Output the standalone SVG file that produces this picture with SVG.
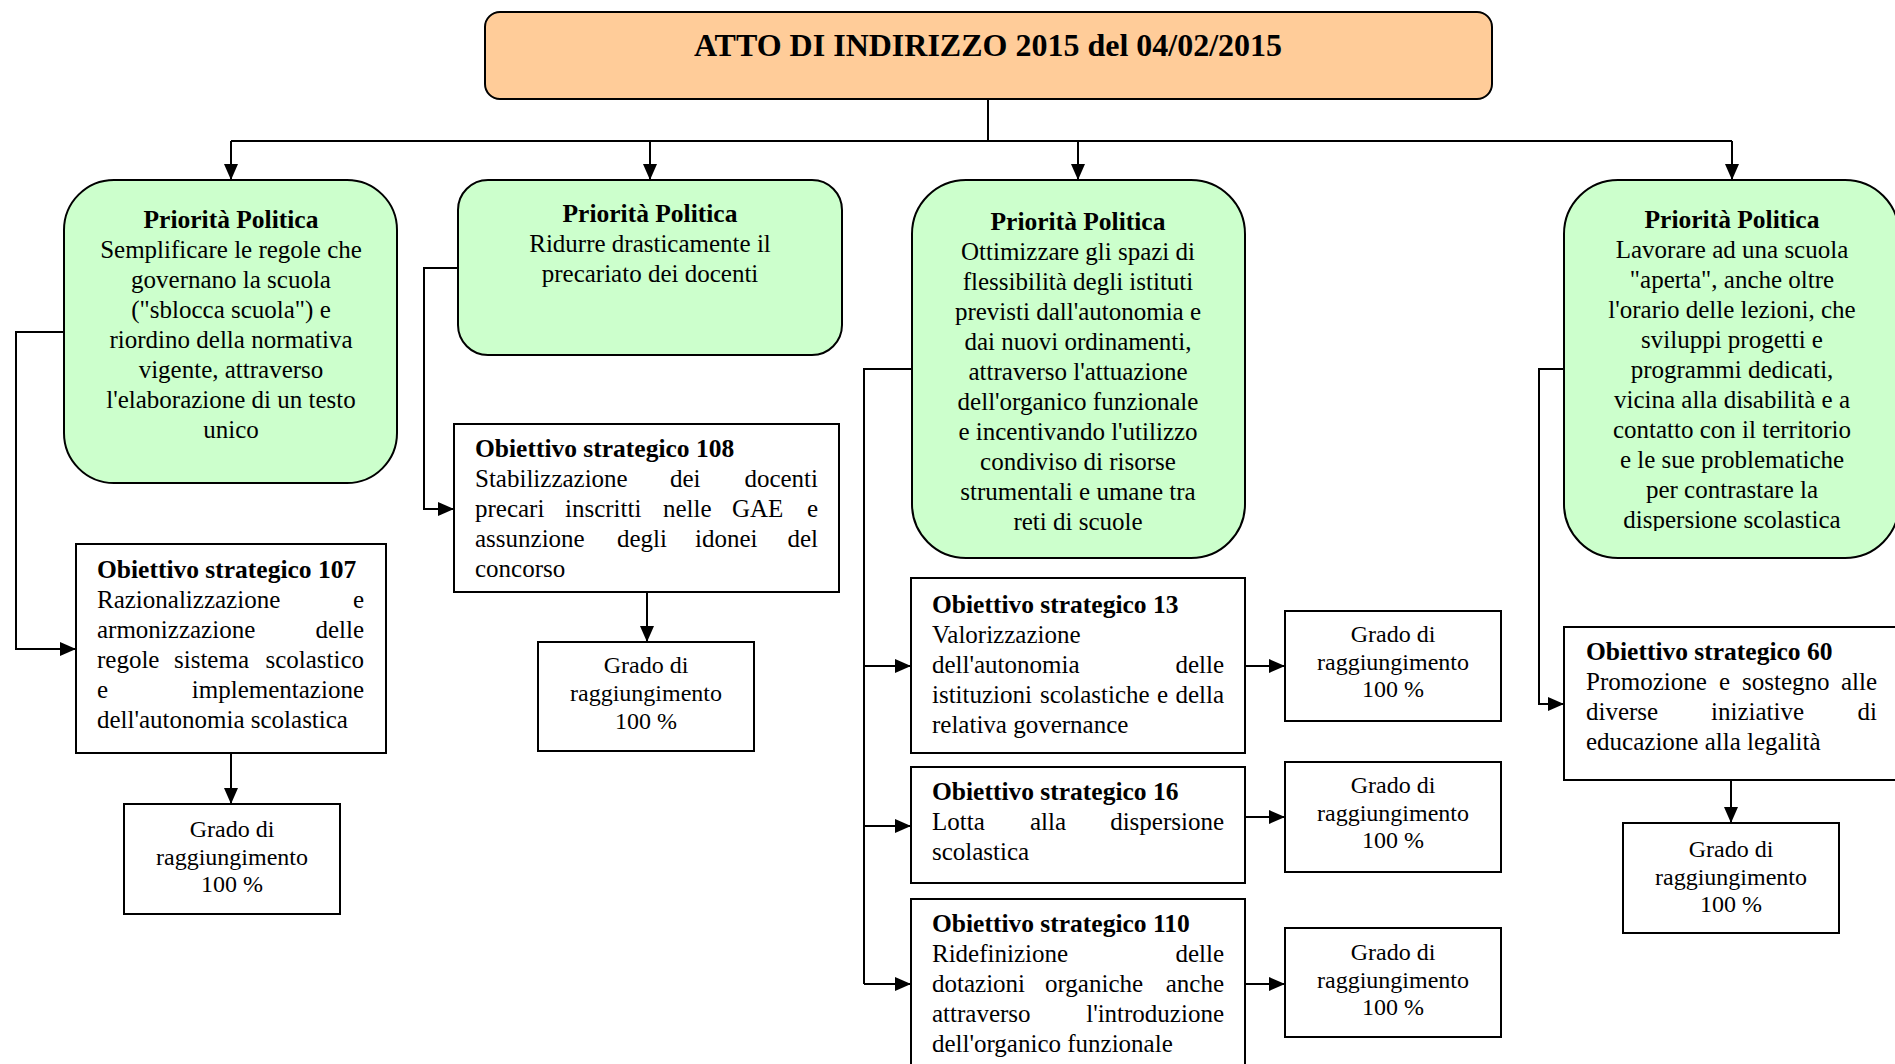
<svg xmlns="http://www.w3.org/2000/svg" width="1895" height="1064" viewBox="0 0 1895 1064">
  <style>
    .pp { fill: #CCFFCC; stroke: #000; stroke-width: 2; }
    .ob { fill: #FFFFFF; stroke: #000; stroke-width: 2; }
    .top { fill: #FFCC99; stroke: #000; stroke-width: 2; }
    text { font-family: "Liberation Serif", "Times New Roman", serif; font-size: 25px; fill: #000; }
    .g { font-size: 24px; }
    .c { text-anchor: middle; }
    .e { text-anchor: end; }
    .b { font-weight: bold; font-size: 25.5px; }
    .h { font-weight: bold; font-size: 32px; text-anchor: middle; }
    #connectors path { fill: none; stroke: #000; stroke-width: 2; }
  </style>
  <defs>
    <marker id="ah" markerUnits="userSpaceOnUse" markerWidth="16" markerHeight="14" refX="16" refY="7" orient="auto">
      <path d="M0,0 L16,7 L0,14 z" fill="#000"/>
    </marker>
    <clipPath id="clip-pp4">
      <rect x="1564" y="180" width="340" height="351"/>
    </clipPath>
  </defs>

  <rect width="1895" height="1064" fill="#FFFFFF"/>

  <!-- connectors -->
  <g id="connectors">
    <path d="M988,99 V141"/>
    <path d="M231,141 H1732"/>
    <path d="M231,141 V180" marker-end="url(#ah)"/>
    <path d="M650,141 V180" marker-end="url(#ah)"/>
    <path d="M1078,141 V180" marker-end="url(#ah)"/>
    <path d="M1732,141 V180" marker-end="url(#ah)"/>

    <path d="M64,332 H16 V649 H76" marker-end="url(#ah)"/>
    <path d="M231,753 V804" marker-end="url(#ah)"/>

    <path d="M458,268 H424 V509 H454" marker-end="url(#ah)"/>
    <path d="M647,592 V642" marker-end="url(#ah)"/>

    <path d="M912,369 H864 V984"/>
    <path d="M864,666 H911" marker-end="url(#ah)"/>
    <path d="M864,826 H911" marker-end="url(#ah)"/>
    <path d="M864,984 H911" marker-end="url(#ah)"/>
    <path d="M1245,666 H1285" marker-end="url(#ah)"/>
    <path d="M1245,817 H1285" marker-end="url(#ah)"/>
    <path d="M1245,984 H1285" marker-end="url(#ah)"/>

    <path d="M1564,369 H1539 V704 H1564" marker-end="url(#ah)"/>
    <path d="M1731,780 V823" marker-end="url(#ah)"/>
  </g>

  <!-- root -->
  <g id="atto">
    <rect class="top" x="485" y="12" width="1007" height="87" rx="15"/>
    <text class="h" x="988" y="56">ATTO DI INDIRIZZO 2015 del 04/02/2015</text>
  </g>

  <!-- political priorities -->
  <g id="priorita-1">
    <rect class="pp" x="64" y="180" width="333" height="303" rx="50"/>
    <text class="c b" x="231" y="228">Priorità Politica</text>
    <text class="c" x="231" y="258">Semplificare le regole che</text>
    <text class="c" x="231" y="288">governano la scuola</text>
    <text class="c" x="231" y="318">("sblocca scuola") e</text>
    <text class="c" x="231" y="348">riordino della normativa</text>
    <text class="c" x="231" y="378">vigente, attraverso</text>
    <text class="c" x="231" y="408">l'elaborazione di un testo</text>
    <text class="c" x="231" y="438">unico</text>
  </g>

  <g id="priorita-2">
    <rect class="pp" x="458" y="180" width="384" height="175" rx="30"/>
    <text class="c b" x="650" y="222">Priorità Politica</text>
    <text class="c" x="650" y="252">Ridurre drasticamente il</text>
    <text class="c" x="650" y="282">precariato dei docenti</text>
  </g>

  <g id="priorita-3">
    <rect class="pp" x="912" y="180" width="333" height="378" rx="54"/>
    <text class="c b" x="1078" y="230">Priorità Politica</text>
    <text class="c" x="1078" y="260">Ottimizzare gli spazi di</text>
    <text class="c" x="1078" y="290">flessibilità degli istituti</text>
    <text class="c" x="1078" y="320">previsti dall'autonomia e</text>
    <text class="c" x="1078" y="350">dai nuovi ordinamenti,</text>
    <text class="c" x="1078" y="380">attraverso l'attuazione</text>
    <text class="c" x="1078" y="410">dell'organico funzionale</text>
    <text class="c" x="1078" y="440">e incentivando l'utilizzo</text>
    <text class="c" x="1078" y="470">condiviso di risorse</text>
    <text class="c" x="1078" y="500">strumentali e umane tra</text>
    <text class="c" x="1078" y="530">reti di scuole</text>
  </g>

  <g id="priorita-4">
    <rect class="pp" x="1564" y="180" width="335" height="378" rx="54"/>
    <g clip-path="url(#clip-pp4)">
      <text class="c b" x="1732" y="228">Priorità Politica</text>
      <text class="c" x="1732" y="258">Lavorare ad una scuola</text>
      <text class="c" x="1732" y="288">"aperta", anche oltre</text>
      <text class="c" x="1732" y="318">l'orario delle lezioni, che</text>
      <text class="c" x="1732" y="348">sviluppi progetti e</text>
      <text class="c" x="1732" y="378">programmi dedicati,</text>
      <text class="c" x="1732" y="408">vicina alla disabilità e a</text>
      <text class="c" x="1732" y="438">contatto con il territorio</text>
      <text class="c" x="1732" y="468">e le sue problematiche</text>
      <text class="c" x="1732" y="498">per contrastare la</text>
      <text class="c" x="1732" y="528">dispersione scolastica</text>
    </g>
  </g>

  <!-- strategic objectives (justified lines are set word by word) -->
  <g id="obiettivo-107">
    <rect class="ob" x="76" y="544" width="310" height="209"/>
    <text class="b" x="97" y="578">Obiettivo strategico 107</text>
    <text x="97" y="608">Razionalizzazione</text><text class="e" x="364" y="608">e</text>
    <text x="97" y="638">armonizzazione</text><text class="e" x="364" y="638">delle</text>
    <text x="97" y="668">regole</text><text x="174" y="668">sistema</text><text class="e" x="364" y="668">scolastico</text>
    <text x="97" y="698">e</text><text class="e" x="364" y="698">implementazione</text>
    <text x="97" y="728">dell'autonomia scolastica</text>
  </g>

  <g id="obiettivo-108">
    <rect class="ob" x="454" y="424" width="385" height="168"/>
    <text class="b" x="475" y="457">Obiettivo strategico 108</text>
    <text x="475" y="487">Stabilizzazione</text><text x="670" y="487">dei</text><text class="e" x="818" y="487">docenti</text>
    <text x="475" y="517">precari</text><text x="565" y="517">inscritti</text><text x="663" y="517">nelle</text><text x="732" y="517">GAE</text><text class="e" x="818" y="517">e</text>
    <text x="475" y="547">assunzione</text><text x="617" y="547">degli</text><text x="695" y="547">idonei</text><text class="e" x="818" y="547">del</text>
    <text x="475" y="577">concorso</text>
  </g>

  <g id="obiettivo-13">
    <rect class="ob" x="911" y="578" width="334" height="175"/>
    <text class="b" x="932" y="613">Obiettivo strategico 13</text>
    <text x="932" y="643">Valorizzazione</text>
    <text x="932" y="673">dell'autonomia</text><text class="e" x="1224" y="673">delle</text>
    <text x="932" y="703">istituzioni</text><text x="1040" y="703">scolastiche</text><text x="1157" y="703">e</text><text class="e" x="1224" y="703">della</text>
    <text x="932" y="733">relativa governance</text>
  </g>

  <g id="obiettivo-16">
    <rect class="ob" x="911" y="767" width="334" height="116"/>
    <text class="b" x="932" y="800">Obiettivo strategico 16</text>
    <text x="932" y="830">Lotta</text><text x="1030" y="830">alla</text><text class="e" x="1224" y="830">dispersione</text>
    <text x="932" y="860">scolastica</text>
  </g>

  <g id="obiettivo-110">
    <rect class="ob" x="911" y="899" width="334" height="190"/>
    <text class="b" x="932" y="932">Obiettivo strategico 110</text>
    <text x="932" y="962">Ridefinizione</text><text class="e" x="1224" y="962">delle</text>
    <text x="932" y="992">dotazioni</text><text x="1045" y="992">organiche</text><text class="e" x="1224" y="992">anche</text>
    <text x="932" y="1022">attraverso</text><text class="e" x="1224" y="1022">l'introduzione</text>
    <text x="932" y="1052">dell'organico funzionale</text>
  </g>

  <g id="obiettivo-60">
    <rect class="ob" x="1564" y="627" width="345" height="153"/>
    <text class="b" x="1586" y="660">Obiettivo strategico 60</text>
    <text x="1586" y="690">Promozione</text><text x="1719" y="690">e</text><text x="1742" y="690">sostegno</text><text class="e" x="1877" y="690">alle</text>
    <text x="1586" y="720">diverse</text><text x="1711" y="720">iniziative</text><text class="e" x="1877" y="720">di</text>
    <text x="1586" y="750">educazione alla legalità</text>
  </g>

  <!-- achievement levels -->
  <g id="grado-107">
    <rect class="ob" x="124" y="804" width="216" height="110"/>
    <text class="c g" x="232" y="837">Grado di</text>
    <text class="c g" x="232" y="865">raggiungimento</text>
    <text class="c g" x="232" y="892">100 %</text>
  </g>

  <g id="grado-108">
    <rect class="ob" x="538" y="642" width="216" height="109"/>
    <text class="c g" x="646" y="673">Grado di</text>
    <text class="c g" x="646" y="701">raggiungimento</text>
    <text class="c g" x="646" y="729">100 %</text>
  </g>

  <g id="grado-13">
    <rect class="ob" x="1285" y="611" width="216" height="110"/>
    <text class="c g" x="1393" y="642">Grado di</text>
    <text class="c g" x="1393" y="670">raggiungimento</text>
    <text class="c g" x="1393" y="697">100 %</text>
  </g>

  <g id="grado-16">
    <rect class="ob" x="1285" y="762" width="216" height="110"/>
    <text class="c g" x="1393" y="793">Grado di</text>
    <text class="c g" x="1393" y="821">raggiungimento</text>
    <text class="c g" x="1393" y="848">100 %</text>
  </g>

  <g id="grado-110">
    <rect class="ob" x="1285" y="928" width="216" height="109"/>
    <text class="c g" x="1393" y="960">Grado di</text>
    <text class="c g" x="1393" y="988">raggiungimento</text>
    <text class="c g" x="1393" y="1015">100 %</text>
  </g>

  <g id="grado-60">
    <rect class="ob" x="1623" y="823" width="216" height="110"/>
    <text class="c g" x="1731" y="857">Grado di</text>
    <text class="c g" x="1731" y="885">raggiungimento</text>
    <text class="c g" x="1731" y="912">100 %</text>
  </g>
</svg>
